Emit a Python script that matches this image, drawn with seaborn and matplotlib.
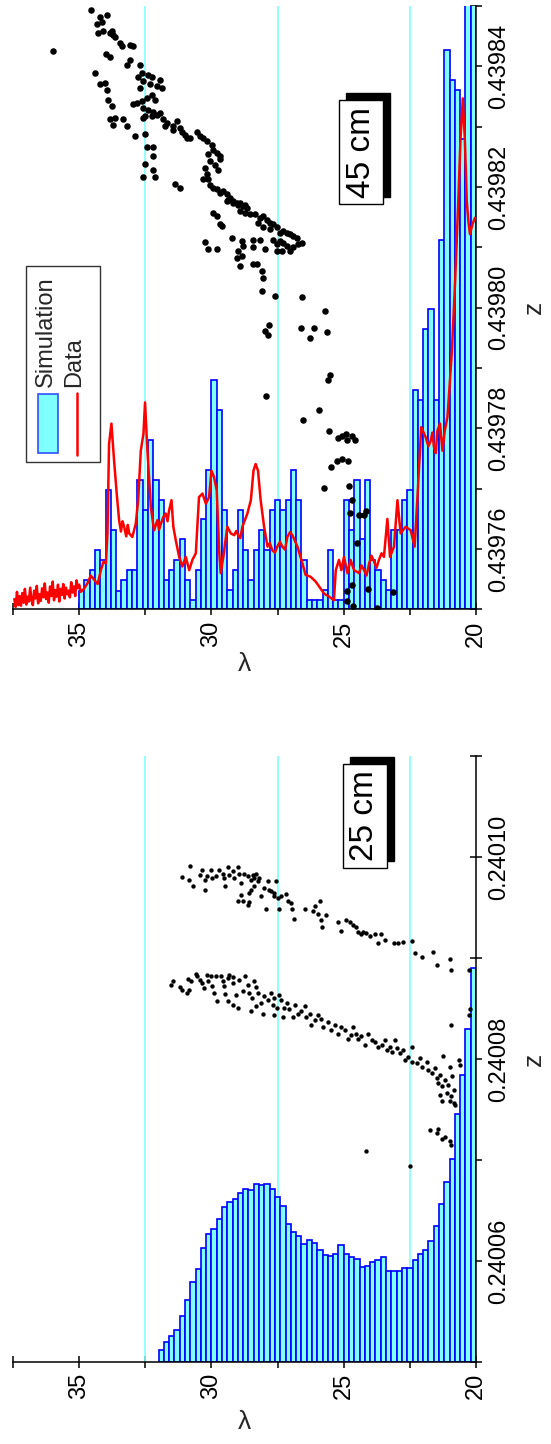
import matplotlib
matplotlib.use("Agg")
import numpy as np
import matplotlib.pyplot as plt
import seaborn as sns
from matplotlib.patches import Rectangle
from matplotlib.lines import Line2D
from matplotlib import transforms

sns.set_style("white")
plt.rcParams["font.family"] = ["Liberation Sans", "DejaVu Sans"]

# all z offsets below are given as (z - z0) * 1e6
Z0_45 = 0.43975
Z0_25 = 0.24005

# ---------------- 45 cm : simulated histogram ----------------
sim45_lambda = [34.9, 34.7, 34.5, 34.3, 34.1, 33.9, 33.7, 33.5, 33.3, 33.1,
                32.9, 32.7, 32.5, 32.3, 32.1, 31.9, 31.7, 31.5, 31.3, 31.1,
                30.9, 30.7, 30.5, 30.3, 30.1, 29.9, 29.7, 29.5, 29.3, 29.1,
                28.9, 28.7, 28.5, 28.3, 28.1, 27.9, 27.7, 27.5, 27.3, 27.1,
                26.9, 26.7, 26.5, 26.3, 26.1, 25.9, 25.7, 25.5, 25.3, 25.1,
                24.9, 24.7, 24.5, 24.3, 24.1, 23.9, 23.7, 23.5, 23.3, 23.1,
                22.9, 22.7, 22.5, 22.3, 22.1, 21.9, 21.7, 21.5, 21.3, 21.1,
                20.9, 20.7, 20.5, 20.3, 20.1]
sim45_h = [3.1, 4.8, 6.5, 9.8, 8.2, 19.8, 13.2, 3.1, 4.8, 6.5,
           6.5, 21.5, 16.5, 28.1, 21.5, 18.2, 4.8, 6.5, 8.2, 11.6,
           4.8, 1.5, 6.5, 14.9, 23.1, 38.0, 33.1, 16.5, 3.2, 6.5,
           16.5, 9.8, 4.8, 9.8, 13.2, 9.8, 16.5, 18.2, 16.5, 18.2,
           23.1, 18.2, 8.2, 1.5, 1.5, 1.5, 3.2, 9.8, 1.5, 1.5,
           18.2, 13.2, 21.5, 11.6, 21.5, 8.2, 6.5, 4.8, 3.2, 13.2,
           13.2, 18.2, 19.8, 36.4, 34.7, 46.5, 49.8, 34.7, 61.3, 92.8,
           87.8, 86.1, 78.0, 104.0, 104.0]

# ---------------- 45 cm : measured spectrum (red) ----------------
data45_lambda = [37.45, 37.40, 37.35, 37.30, 37.25, 37.20, 37.15, 37.10, 37.05, 37.00,
                 36.95, 36.90, 36.85, 36.80, 36.75, 36.70, 36.65, 36.60, 36.55, 36.50,
                 36.45, 36.40, 36.35, 36.30, 36.25, 36.20, 36.15, 36.10, 36.05, 36.00,
                 35.95, 35.90, 35.85, 35.80, 35.75, 35.70, 35.65, 35.60, 35.55, 35.50,
                 35.45, 35.40, 35.35, 35.30, 35.25, 35.20, 35.15, 35.10, 35.05, 35.00,
                 34.94, 34.82, 34.69, 34.56, 34.43, 34.30, 34.18, 34.08, 33.99, 33.93,
                 33.87, 33.78, 33.68, 33.58, 33.49, 33.42, 33.36, 33.30, 33.22, 33.16,
                 33.11, 32.99, 32.86, 32.77, 32.67, 32.57, 32.51, 32.42, 32.29, 32.17,
                 32.04, 31.98, 31.91, 31.82, 31.73, 31.66, 31.60, 31.51, 31.44, 31.35,
                 31.22, 31.10, 30.97, 30.84, 30.72, 30.59, 30.47, 30.34, 30.21, 30.09,
                 30.00, 29.90, 29.80, 29.71, 29.65, 29.55, 29.40, 29.27, 29.14, 29.06,
                 28.99, 28.91, 28.83, 28.64, 28.51, 28.41, 28.33, 28.24, 28.14, 28.01,
                 27.88, 27.79, 27.70, 27.60, 27.51, 27.41, 27.32, 27.22, 27.13, 27.03,
                 26.94, 26.75, 26.56, 26.44, 26.25, 26.06, 25.93, 25.74, 25.55, 25.37,
                 25.30, 25.18, 25.09, 24.99, 24.86, 24.74, 24.61, 24.42, 24.33, 24.23,
                 24.14, 24.04, 23.95, 23.85, 23.76, 23.67, 23.57, 23.48, 23.35, 23.25,
                 23.10, 22.97, 22.85, 22.66, 22.47, 22.32, 22.22, 22.07, 21.90, 21.80,
                 21.71, 21.65, 21.59, 21.52, 21.46, 21.36, 21.27, 21.18, 21.08, 21.05,
                 20.91, 20.79, 20.67, 20.59, 20.50, 20.42, 20.35, 20.29, 20.23, 20.13,
                 20.04]
data45_h = [1.7, 0.4, 2.9, 0.7, 2.2, 0.6, 2.7, 1.1, 3.4, 0.8,
            2.1, 1.3, 3.6, 1.5, 0.7, 3.1, 1.8, 3.9, 1.0, 2.5,
            1.4, 3.5, 2.0, 4.3, 1.7, 2.8, 1.1, 3.8, 2.2, 4.6,
            1.5, 3.2, 2.1, 4.1, 1.3, 3.4, 2.4, 4.2, 1.8, 3.6,
            2.5, 3.1, 2.0, 4.5, 2.8, 3.8, 2.2, 4.8, 3.5, 4.1,
            2.9, 3.4, 4.3, 5.6, 4.9, 4.2, 6.5, 7.9, 7.6, 12.6,
            27.4, 30.8, 24.7, 19.2, 14.8, 12.9, 14.6, 13.7, 12.1, 14.0,
            12.6, 12.0, 14.2, 18.1, 26.3, 29.1, 34.3, 26.3, 17.0, 13.1,
            14.8, 13.2, 14.2, 15.3, 15.9, 14.6, 16.4, 18.1, 13.7, 11.5,
            8.7, 7.1, 8.7, 6.5, 8.2, 9.3, 18.6, 19.2, 17.5, 18.6,
            23.0, 21.9, 19.7, 9.8, 6.0, 8.7, 13.7, 12.6, 12.3, 13.0,
            12.3, 11.8, 13.7, 15.9, 18.1, 23.0, 24.1, 23.0, 18.1, 13.7,
            10.4, 11.0, 9.8, 9.4, 10.4, 11.2, 10.4, 9.9, 12.0, 12.8,
            12.3, 10.4, 7.6, 5.7, 5.4, 4.6, 3.8, 2.6, 2.1, 1.5,
            6.5, 8.2, 6.5, 8.7, 6.0, 8.2, 6.5, 6.0, 7.3, 6.5,
            5.6, 7.6, 8.9, 7.9, 6.9, 8.2, 9.3, 8.7, 15.0, 8.7,
            10.4, 18.1, 12.6, 13.7, 13.1, 10.4, 18.1, 30.2, 28.5, 27.0,
            28.0, 29.3, 26.9, 25.9, 29.6, 30.8, 26.3, 29.6, 31.9, 33.7,
            42.9, 54.4, 67.7, 77.6, 84.7, 77.6, 67.7, 64.4, 62.2, 63.9,
            64.9]

# ---------------- 45 cm : trajectory points ----------------
dots45_lambda = [34.56, 34.21, 33.96, 34.34, 34.15, 34.27, 34.08, 33.83, 33.71, 33.64,
                 33.77, 33.45, 33.39, 33.08, 32.95, 35.97, 33.98, 33.83, 33.08, 33.20,
                 32.70, 32.64, 32.38, 32.26, 31.94, 34.40, 34.21, 34.02, 33.96, 33.90,
                 33.77, 32.76, 32.57, 32.32, 32.07, 31.88, 32.70, 32.26, 32.45, 32.13,
                 32.82, 32.95, 32.64, 32.57, 32.38, 32.19, 32.07, 31.94, 32.51, 32.26,
                 32.57, 33.83, 33.64, 33.33, 33.71, 33.20, 31.82, 31.69, 31.75, 31.44,
                 31.31, 31.19, 31.12, 31.44, 31.00, 30.94, 30.81, 30.56, 30.43, 30.31,
                 30.18, 29.99, 29.93, 29.80, 29.68, 30.12, 30.05, 29.86, 29.74, 29.68,
                 30.24, 30.18, 30.12, 30.31, 30.05, 29.93, 29.80, 29.68, 29.55, 29.42,
                 29.30, 29.17, 29.05, 28.92, 28.73, 32.89, 32.51, 32.45, 32.19, 32.22,
                 32.51, 32.19, 32.57, 32.13, 31.38, 31.19, 29.36,
                 29.42, 29.17, 28.98, 28.79, 28.67, 28.92, 28.73, 28.54, 28.35, 29.93,
                 29.80, 29.68, 29.61, 28.16, 28.04, 27.91, 27.79, 27.66, 28.23, 28.04,
                 27.79, 27.53, 27.41, 27.28, 27.16, 27.03, 26.90, 26.78, 26.59, 26.72,
                 26.90, 27.03, 27.16, 27.28, 27.41, 27.53, 27.34, 27.53, 27.66, 30.24,
                 30.12, 29.80, 29.23, 28.86, 28.79, 28.98, 29.05, 28.86, 28.92, 28.42,
                 28.16, 28.42, 27.97, 28.42, 28.29, 28.10, 28.04, 28.08, 27.60, 26.56,
                 25.71, 27.81, 27.97, 27.87, 26.61, 26.12, 25.64, 26.27, 25.52, 25.58,
                 27.95,
                 26.53, 25.93, 25.54, 25.20, 25.08, 24.93, 24.86, 24.67, 24.57, 25.27,
                 25.05, 24.85, 25.49, 25.75, 24.80, 24.70, 24.78, 24.42, 24.22, 24.17,
                 24.50, 24.09, 24.69, 24.86, 24.89, 24.64, 23.75, 23.12]
dots45_dz = [99.3, 98.2, 98.5, 97.1, 97.4, 95.5, 95.8, 95.5, 95.2, 94.8,
             95.8, 93.8, 93.3, 93.6, 93.3, 92.5, 92.1, 91.6, 91.1, 90.3,
             90.3, 88.9, 88.6, 88.3, 87.8, 88.9, 87.0, 87.2, 86.1, 84.5,
             83.4, 88.3, 87.5, 87.0, 86.7, 86.4, 86.4, 85.3, 84.8, 84.5,
             83.9, 83.7, 84.2, 83.1, 82.8, 82.5, 82.0, 82.3, 81.7, 81.7,
             81.4, 81.2, 81.4, 81.2, 80.3, 80.1, 81.2, 80.6, 80.1, 80.1,
             80.9, 79.8, 79.2, 79.5, 78.7, 78.1, 78.1, 79.2, 78.4, 78.1,
             77.6, 77.0, 76.2, 75.7, 75.1, 75.4, 74.3, 73.7, 72.9, 74.6,
             73.2, 72.1, 71.3, 71.3, 70.4, 69.9, 69.6, 69.0, 69.3, 68.8,
             68.2, 67.7, 67.4, 67.4, 67.0, 78.4, 78.8, 76.6, 76.6, 75.1,
             73.8, 72.9, 71.6, 71.6, 70.5, 69.8, 67.8,
             67.7, 67.4, 67.1, 66.8, 66.6, 66.0, 65.7, 65.5, 65.5, 65.7,
             65.2, 63.8, 63.5, 64.9, 65.2, 64.6, 64.1, 63.8, 64.1, 63.3,
             63.0, 63.3, 62.4, 62.7, 62.4, 62.2, 61.9, 61.6, 60.8, 60.5,
             60.0, 59.4, 60.2, 60.8, 61.1, 60.5, 59.4, 59.4, 61.3, 60.9,
             59.7, 59.7, 61.6, 61.1, 60.2, 59.4, 58.3, 58.6, 56.9, 61.3,
             61.3, 60.0, 59.7, 57.2, 57.2, 56.1, 55.0, 52.7, 51.9, 51.7,
             49.4, 47.2, 46.2, 45.4, 46.7, 46.6, 45.9, 45.0, 38.9, 38.0,
             35.3,
             31.4, 33.1, 29.6, 28.4, 28.7, 29.1, 28.0, 28.7, 28.0, 24.6,
             25.0, 24.6, 23.6, 20.2, 20.4, 18.1, 15.9, 15.6, 15.6, 16.3,
             11.0, 3.3, 4.0, 3.0, 1.4, 0.6, 0.3, 2.8]

# ---------------- 25 cm : simulated histogram ----------------
sim25_lambda = [31.9, 31.7, 31.5, 31.3, 31.1, 30.9, 30.7, 30.5, 30.3, 30.1,
                29.9, 29.7, 29.5, 29.3, 29.1, 28.9, 28.7, 28.5, 28.3, 28.1,
                27.9, 27.7, 27.5, 27.3, 27.1, 26.9, 26.7, 26.5, 26.3, 26.1,
                25.9, 25.7, 25.5, 25.3, 25.1, 24.9, 24.7, 24.5, 24.3, 24.1,
                23.9, 23.7, 23.5, 23.3, 23.1, 22.9, 22.7, 22.5, 22.3, 22.1,
                21.9, 21.7, 21.5, 21.3, 21.1, 20.9, 20.7, 20.5, 20.3, 20.1]
sim25_h = [1.2, 2.0, 2.6, 3.2, 4.6, 6.1, 7.9, 9.2, 11.3, 12.7,
           13.2, 14.2, 15.3, 15.8, 16.1, 16.7, 17.1, 17.0, 17.6, 17.5,
           17.6, 17.1, 16.3, 15.4, 13.7, 12.9, 12.5, 11.7, 12.1, 11.8,
           11.1, 10.6, 10.5, 10.7, 11.6, 10.7, 10.4, 10.2, 9.4, 9.5,
           9.9, 10.1, 10.4, 9.0, 9.0, 9.0, 9.3, 9.3, 10.1, 10.7,
           11.1, 12.0, 13.5, 15.6, 17.8, 20.1, 24.6, 28.4, 33.0, 39.0]

# ---------------- 25 cm : trajectory points ----------------
dots25_lambda = [31.10, 30.81, 30.85, 30.68, 30.43, 30.34, 30.25, 30.25, 30.15, 30.03,
                 29.96, 29.84, 29.71, 29.58, 29.52, 29.49, 29.39, 29.33, 29.20, 29.14,
                 29.01, 28.95, 28.89, 29.01, 28.82, 28.63, 28.57, 28.76, 28.63, 28.51,
                 28.44, 28.38, 28.32, 28.25, 28.19, 28.89, 28.57, 28.51, 28.38, 28.13,
                 28.00, 27.87, 27.81, 27.75, 27.62, 27.56, 27.62, 27.49, 27.37, 27.18,
                 27.11, 26.99, 26.96, 26.89, 27.94, 27.43, 26.48, 26.17, 26.10, 25.91,
                 25.98, 25.85, 25.82, 25.66, 25.22, 25.11, 24.90, 24.77, 24.65, 24.52,
                 24.46, 24.33, 24.27, 24.14, 24.01, 23.82, 23.70, 23.60, 23.44, 23.09,
                 22.94, 22.75, 22.41, 22.30, 21.61,
                 31.54, 31.44, 31.19, 31.10, 30.91, 30.85, 30.89, 30.79, 30.60, 30.53,
                 30.43, 30.34, 30.28, 30.15, 30.13, 30.03, 29.96, 29.84, 29.90, 29.80,
                 29.65, 29.58, 29.52, 29.49, 29.39, 29.33, 29.20, 29.17, 29.39, 29.20,
                 29.01, 29.08, 28.95, 28.82, 28.73, 28.63, 28.57, 28.48, 28.38, 28.32,
                 28.25, 28.51, 28.32, 28.13, 28.06, 28.00, 27.87, 27.75, 27.68, 27.62,
                 27.52, 27.43, 27.37, 27.62, 27.30, 27.24, 27.14, 27.05, 26.92, 26.86,
                 26.73, 26.61, 26.48, 26.42, 26.29, 26.23, 26.10, 25.98, 25.87, 25.79,
                 25.60, 25.47, 25.34, 25.22, 25.09, 24.96, 24.84, 24.71, 24.65, 24.52,
                 24.46, 24.33, 24.20, 24.08, 23.95, 23.82, 23.70, 23.57, 23.44, 23.38,
                 23.25, 23.19, 23.06, 23.00, 22.87, 22.75, 22.68, 22.56, 22.41, 22.43,
                 22.24, 22.11, 22.03, 21.86, 21.80, 21.67, 21.54, 21.48, 21.42, 21.35,
                 21.29, 21.23, 21.17, 21.10, 21.04, 20.98, 20.94, 20.91, 20.79, 20.85,
                 20.66, 20.98, 21.29, 21.35, 20.60, 21.17, 21.42, 21.73, 21.48, 21.27,
                 20.98, 20.94, 20.85, 24.17,
                 22.03, 21.48, 20.98, 20.94, 20.94, 20.28, 20.22, 20.25, 22.49]
dots25_dz = [48.0, 49.1, 47.7, 47.1, 48.2, 48.7, 47.7, 46.7, 48.1, 48.7,
             47.9, 48.1, 48.7, 48.3, 47.9, 47.1, 49.0, 48.2, 48.6, 47.9,
             49.0, 48.3, 47.4, 45.6, 45.6, 45.2, 45.5, 48.3, 48.1, 47.7,
             48.2, 47.9, 48.3, 47.6, 47.9, 46.2, 46.4, 46.7, 47.1, 46.1,
             46.9, 47.6, 46.7, 46.6, 46.4, 47.6, 46.1, 45.9, 46.1, 46.3,
             45.6, 45.4, 44.8, 43.9, 44.8, 44.8, 44.8, 44.6, 45.1, 45.6,
             44.4, 43.8, 43.1, 44.3, 43.6, 42.7, 43.8, 43.6, 43.3, 43.1,
             42.6, 42.4, 42.6, 42.5, 42.2, 42.4, 41.5, 42.4, 41.8, 41.5,
             41.5, 41.6, 41.7, 40.5, 40.6,
             37.3, 37.7, 37.1, 36.8, 36.5, 36.8, 37.9, 37.7, 38.4, 38.2,
             37.8, 37.5, 37.0, 38.3, 37.7, 38.2, 37.2, 38.2, 36.5, 35.7,
             38.2, 37.7, 37.2, 36.4, 38.0, 38.3, 38.1, 37.5, 35.7, 35.3,
             35.0, 36.3, 37.8, 36.7, 38.2, 37.3, 36.5, 36.0, 37.7, 37.1,
             36.5, 34.7, 35.2, 35.5, 34.5, 36.2, 35.8, 36.5, 35.3, 36.0,
             35.0, 36.3, 35.8, 34.4, 34.2, 35.0, 35.5, 34.9, 34.2, 35.3,
             34.5, 34.7, 35.2, 34.2, 34.5, 33.4, 33.9, 34.4, 34.0, 33.2,
             33.7, 32.9, 33.4, 32.5, 33.2, 32.9, 32.0, 32.4, 33.2, 32.5,
             32.0, 32.3, 31.4, 32.5, 31.9, 31.7, 31.2, 31.4, 31.9, 30.9,
             31.2, 30.7, 31.9, 31.1, 30.6, 30.9, 29.9, 30.2, 31.2, 29.7,
             29.6, 30.1, 29.2, 29.7, 28.9, 28.6, 29.1, 28.1, 27.6, 28.4,
             27.3, 30.3, 27.9, 26.6, 27.4, 29.2, 26.3, 28.3, 25.4, 26.9,
             29.9, 25.8, 25.8, 26.4, 29.4, 22.3, 23.1, 23.0, 22.7, 22.1,
             21.9, 21.5, 25.6, 20.9,
             40.1, 39.3, 39.9, 38.8, 33.4, 34.4, 34.9, 38.8, 19.4]

SIM_FACE = "#80FFFF"
SIM_EDGE = "#0000FF"
GUIDE = "#80FFFF"

fig = plt.figure(figsize=(5.51, 14.44), dpi=100)
ax45 = fig.add_axes([0.0236, 0.5780, 0.8403, 0.4178])
ax25 = fig.add_axes([0.0236, 0.0568, 0.8403, 0.4197])


def style_axis(ax, z0, zmax, majors, minors, lam_lab_y):
    ax.set_xlim(37.5, 20)
    ax.set_ylim(z0, zmax)
    for v in [32.5, 27.5, 22.5]:
        ax.axvline(v, color=GUIDE, lw=1.2, zorder=1)
    ax.spines["top"].set_visible(False)
    ax.spines["left"].set_visible(False)
    for s in ["bottom", "right"]:
        ax.spines[s].set_linewidth(1.1)
        ax.spines[s].set_color("black")
    ax.yaxis.tick_right()
    ax.yaxis.set_label_position("right")
    ax.set_xticks([20, 25, 30, 35])
    ax.set_xticks([22.5, 27.5, 32.5, 37.5], minor=True)
    ax.set_yticks(majors)
    ax.set_yticks(minors, minor=True)
    ax.set_yticklabels(["%.5f" % v for v in majors])
    ax.tick_params(which="both", direction="inout", length=8, width=1.1,
                   labelsize=17, colors="black")
    ax.tick_params(axis="x", which="both", bottom=True, top=False, labelrotation=90, pad=4)
    ax.tick_params(axis="y", which="both", right=True, left=False, labelrotation=90, pad=5)
    for lab in ax.get_yticklabels():
        lab.set_verticalalignment("center")
    ax.set_xlabel("λ", fontsize=19)
    ax.set_ylabel("z", fontsize=19)
    ax.xaxis.set_label_coords(0.5, lam_lab_y)
    ax.yaxis.set_label_coords(1.10, 0.5)


def cm_box(ax, x, y, s):
    t = ax.text(x, y, s, transform=ax.transAxes, rotation=90, ha="center", va="center",
                fontsize=24, color="black", zorder=11,
                bbox=dict(boxstyle="square,pad=0.2", fc="white", ec="black", lw=1))
    fig.canvas.draw()
    bb = t.get_bbox_patch().get_window_extent(fig.canvas.get_renderer())
    # drop shadow, shifted right and up
    ax.add_patch(Rectangle((bb.x0 + 7, bb.y0 + 7), bb.width, bb.height,
                           transform=transforms.IdentityTransform(),
                           fc="black", ec="black", lw=1, zorder=10))


# ---- 45 cm panel ----
style_axis(ax45, Z0_45, 0.43985,
           [0.43976, 0.43978, 0.43980, 0.43982, 0.43984],
           [0.43975, 0.43977, 0.43979, 0.43981, 0.43983, 0.43985], -0.07)
ax45.bar(sim45_lambda, np.array(sim45_h) * 1e-6, width=0.2, bottom=Z0_45,
         color=SIM_FACE, edgecolor=SIM_EDGE, linewidth=1.2, zorder=2)
sns.lineplot(x=data45_lambda, y=Z0_45 + np.array(data45_h) * 1e-6, ax=ax45,
             color="#FF0000", lw=1.8, sort=False, estimator=None, zorder=3)
sns.scatterplot(x=dots45_lambda, y=Z0_45 + np.array(dots45_dz) * 1e-6, ax=ax45,
                color="black", s=22, linewidth=0, zorder=4)

# hand-built legend (rotated like the rest of the figure)
ax45.add_patch(Rectangle((0.028, 0.244), 0.160, 0.325, transform=ax45.transAxes,
                         fc="white", ec="#333333", lw=1, zorder=8))
ax45.add_patch(Rectangle((0.054, 0.259), 0.043, 0.098, transform=ax45.transAxes,
                         fc=SIM_FACE, ec="#3050FF", lw=1.2, zorder=9))
ax45.add_line(Line2D([0.138, 0.138], [0.256, 0.359], transform=ax45.transAxes,
                     color="#FF0000", lw=1.8, zorder=9))
ax45.text(0.071, 0.369, "Simulation", transform=ax45.transAxes, rotation=90,
          ha="center", va="bottom", fontsize=17, zorder=9)
ax45.text(0.132, 0.369, "Data", transform=ax45.transAxes, rotation=90,
          ha="center", va="bottom", fontsize=17, zorder=9)

# ---- 25 cm panel ----
style_axis(ax25, Z0_25, 0.24011,
           [0.24006, 0.24008, 0.24010],
           [0.24005, 0.24007, 0.24009, 0.24011], -0.08)
ax25.bar(sim25_lambda, np.array(sim25_h) * 1e-6, width=0.2, bottom=Z0_25,
         color=SIM_FACE, edgecolor=SIM_EDGE, linewidth=1.2, zorder=2)
sns.scatterplot(x=dots25_lambda, y=Z0_25 + np.array(dots25_dz) * 1e-6, ax=ax25,
                color="black", s=10, linewidth=0, zorder=4)

cm_box(ax45, 0.752, 0.758, "45 cm")
cm_box(ax25, 0.760, 0.901, "25 cm")

fig.savefig("out.png", dpi=100)
